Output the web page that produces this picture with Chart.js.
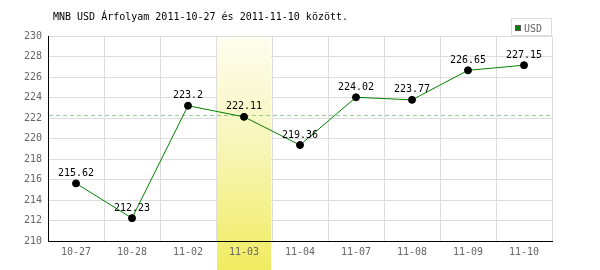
<!DOCTYPE html>
<html><head><meta charset="utf-8">
<script src="https://cdn.jsdelivr.net/npm/chart.js@4"></script>
<style>html,body{margin:0;padding:0;background:#fff}#wrap{width:600px;height:270px}</style>
</head><body><div id="wrap"><canvas id="c" width="600" height="270"></canvas></div>
<script>
const categories = ["10-27","10-28","11-02","11-03","11-04","11-07","11-08","11-09","11-10"];
const usdValues = [215.62,212.23,223.2,222.11,219.36,224.02,223.77,226.65,227.15];
const valueLabels = ["215.62","212.23","223.2","222.11","219.36","224.02","223.77","226.65","227.15"];
const highlightIndex = 3;
const refValue = 222.11;
const titleText = "MNB USD Árfolyam 2011-10-27 és 2011-11-10 között.";
const seriesName = "USD";
const FONT = "10px 'DejaVu Sans Mono'";

function bandRect(chart){
  const x = chart.scales.x;
  const c = x.getPixelForValue(highlightIndex);
  const half = (x.getPixelForValue(1) - x.getPixelForValue(0))/2;
  return {l: c-half+1, r: c+half-1};
}
function bandGrad(ctx, top){
  const g = ctx.createLinearGradient(0, top, 0, 270);
  g.addColorStop(0, '#fefdf0');
  g.addColorStop(0.5, '#f7f5b4');
  g.addColorStop(1, '#f0ec60');
  return g;
}
const custom = {
  id: 'custom',
  beforeDraw(chart){
    const ctx = chart.ctx, a = chart.chartArea;
    const b = bandRect(chart);
    ctx.save();
    ctx.fillStyle = bandGrad(ctx, a.top);
    ctx.fillRect(b.l, a.top, b.r-b.l, 270-a.top);
    ctx.restore();
  },
  beforeDatasetsDraw(chart){
    const ctx = chart.ctx, a = chart.chartArea;
    const b = bandRect(chart);
    ctx.save();
    ctx.fillStyle = bandGrad(ctx, a.top);
    ctx.fillRect(b.l, a.top+1, b.r-b.l, a.bottom-a.top-1.5);
    // reference dashed line
    const y = Math.floor(chart.scales.y.getPixelForValue(refValue))-0.5;
    ctx.strokeStyle = '#99cc99';
    ctx.lineWidth = 1;
    ctx.setLineDash([4,3]);
    ctx.beginPath(); ctx.moveTo(a.left+1, y); ctx.lineTo(a.right-2, y); ctx.stroke();
    ctx.setLineDash([]);
    // title
    ctx.fillStyle = '#000';
    ctx.font = FONT;
    ctx.textAlign = 'left'; ctx.textBaseline = 'middle';
    ctx.fillText(titleText, 53, 17);
    // legend
    ctx.fillStyle = '#fff';
    ctx.fillRect(511.5, 18.5, 40, 17);
    ctx.strokeStyle = '#dddddd';
    ctx.strokeRect(511.5, 18.5, 40, 17);
    ctx.fillStyle = '#008000';
    ctx.fillRect(515, 25, 6, 6);
    ctx.strokeStyle = '#555';
    ctx.strokeRect(515.5, 25.5, 5, 5);
    ctx.fillStyle = '#666';
    ctx.fillText(seriesName, 524, 29);
    ctx.restore();
  },
  afterDatasetsDraw(chart){
    const ctx = chart.ctx;
    const meta = chart.getDatasetMeta(0);
    ctx.save();
    ctx.font = FONT;
    ctx.fillStyle = '#000';
    ctx.textAlign = 'center'; ctx.textBaseline = 'middle';
    meta.data.forEach((p,i)=>{ ctx.fillText(valueLabels[i], p.x, p.y-10); });
    ctx.restore();
  }
};

new Chart(document.getElementById('c'), {
  type: 'line',
  data: { labels: categories, datasets: [{
    label: seriesName, data: usdValues,
    borderColor: '#008000', borderWidth: 1, tension: 0,
    pointBackgroundColor: '#000', pointBorderColor: '#000', pointRadius: 3.5, pointBorderWidth: 1
  }]},
  options: {
    responsive: false, animation: false, devicePixelRatio: 1,
    layout: { padding: { top: 36, right: 48, left: 0, bottom: 0 } },
    plugins: { legend: { display: false }, tooltip: { enabled: false } },
    scales: {
      x: {
        offset: true,
        grid: { offset: true, color: '#dddddd', drawTicks: false },
        border: { color: '#000', width: 1 },
        ticks: { color: '#666', font: { family: 'DejaVu Sans Mono', size: 10 }, padding: 5, maxRotation: 0, autoSkip: false },
        afterFit(s){ s.height = 29; }
      },
      y: {
        min: 210, max: 230,
        grid: { color: '#dddddd', drawTicks: false },
        border: { color: '#000', width: 1 },
        ticks: { stepSize: 2, color: '#666', font: { family: 'DejaVu Sans Mono', size: 10 }, padding: 6 },
        afterFit(s){ s.width = 48; }
      }
    }
  },
  plugins: [custom]
});
</script>
</body></html>
